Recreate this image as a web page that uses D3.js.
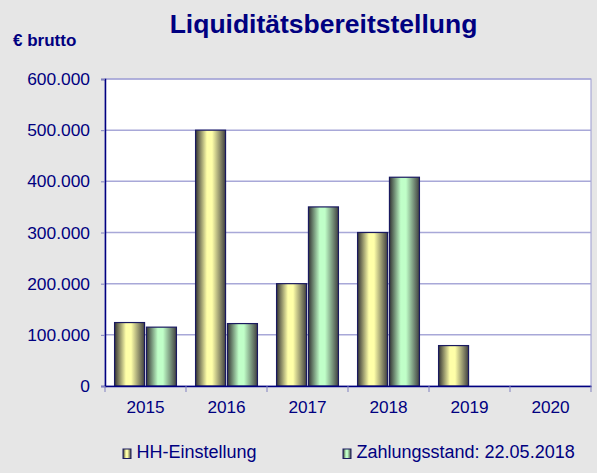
<!DOCTYPE html>
<html>
<head>
<meta charset="utf-8">
<script src="https://cdn.jsdelivr.net/npm/d3@7"></script>
<style>
  body { margin: 0; background: #e6e6e6; }
  svg { display: block; font-family: "Liberation Sans", Arial, sans-serif; }
</style>
</head>
<body>
<svg width="597" height="473"></svg>
<script>
const years = ["2015", "2016", "2017", "2018", "2019", "2020"];
const hhEinstellung = [124000, 500000, 200000, 300000, 79000, 0];
const zahlungsstand = [115000, 122000, 350000, 408000, 0, 0];
const seriesNames = ["HH-Einstellung", "Zahlungsstand: 22.05.2018"];
const yTicks = [0, 100000, 200000, 300000, 400000, 500000, 600000];

const navy = "#000080";
const svg = d3.select("svg");
const plotLeft = 105, plotRight = 591, plotTop = 79, plotBottom = 386;

// gradients for the cylinder look
const defs = svg.append("defs");
function grad(id, light) {
    let g = defs.append("linearGradient").attr("id", id)
        .attr("x1", "0%").attr("x2", "100%").attr("y1", "0%").attr("y2", "0%");
    g.append("stop").attr("offset", "0%").attr("stop-color", "#333333");
    g.append("stop").attr("offset", "38%").attr("stop-color", light);
    g.append("stop").attr("offset", "55%").attr("stop-color", light);
    g.append("stop").attr("offset", "100%").attr("stop-color", "#404040");
}
grad("gYellow", "#ffffa8");
grad("gGreen", "#c0ffc8");

let x = d3.scaleBand().domain(years).range([plotLeft, plotRight]);
let x1 = d3.scaleBand().domain([0, 1]).range([0, x.bandwidth()]).paddingInner(0.06).paddingOuter(0.3);
let y = d3.scaleLinear().domain([0, 600000]).range([plotBottom, plotTop]);

// plot area
svg.append("rect")
    .attr("x", plotLeft).attr("y", plotTop)
    .attr("width", plotRight - plotLeft).attr("height", plotBottom - plotTop)
    .attr("fill", "#ffffff")
    .attr("stroke", "#9a9ad0");

// gridlines
svg.append("g").selectAll("line")
    .data(yTicks.slice(1))
    .enter().append("line")
    .attr("x1", plotLeft).attr("x2", plotRight)
    .attr("y1", d => y(d)).attr("y2", d => y(d))
    .attr("stroke", "#a8a8d8").attr("stroke-width", 1.5);

// y axis
let fmt = d => d === 0 ? "0" : d3.format(",")(d).replace(/,/g, ".");
let yAxis = d3.axisLeft(y).tickValues(yTicks).tickFormat(fmt).tickSize(4).tickPadding(11);
let yg = svg.append("g").attr("transform", `translate(${plotLeft},0)`).call(yAxis);
yg.select(".domain").attr("stroke", navy).attr("stroke-width", 1.5);
yg.selectAll(".tick line").attr("stroke", "#8080c0");
yg.selectAll(".tick text").attr("fill", navy).style("font-size", "17.4px");

// bars
let data = years.map((yr, i) => ({ yr, vals: [hhEinstellung[i], zahlungsstand[i]] }));
let groups = svg.append("g").selectAll("g")
    .data(data).enter().append("g")
    .attr("transform", d => `translate(${x(d.yr)},0)`);
groups.selectAll("rect")
    .data(d => d.vals.map((v, k) => ({ v, k })).filter(e => e.v > 0))
    .enter().append("rect")
    .attr("x", d => x1(d.k))
    .attr("width", x1.bandwidth())
    .attr("y", d => y(d.v))
    .attr("height", d => y(0) - y(d.v))
    .attr("fill", d => d.k === 0 ? "url(#gYellow)" : "url(#gGreen)")
    .attr("stroke", "#1a1a60").attr("stroke-width", 1.2);

// x axis
let xAxis = d3.axisBottom(x).tickSize(0).tickPadding(15);
let xg = svg.append("g").attr("transform", `translate(0,${plotBottom})`).call(xAxis);
xg.select(".domain").attr("stroke", navy).attr("stroke-width", 1.5);
xg.selectAll(".tick text").attr("fill", navy).style("font-size", "17.2px");
svg.append("g").selectAll("line")
    .data(years.concat(["end"]))
    .enter().append("line")
    .attr("x1", (d, i) => plotLeft + i * x.bandwidth())
    .attr("x2", (d, i) => plotLeft + i * x.bandwidth())
    .attr("y1", plotBottom).attr("y2", plotBottom + 6)
    .attr("stroke", "#8080c0");

// title
svg.append("text")
    .attr("x", 323.5).attr("y", 33)
    .attr("text-anchor", "middle")
    .attr("fill", navy)
    .style("font-size", "26.5px").style("font-weight", "bold")
    .text("Liquiditätsbereitstellung");

svg.append("text")
    .attr("x", 13).attr("y", 46)
    .attr("fill", navy)
    .style("font-size", "17px").style("font-weight", "bold")
    .text("€ brutto");

// legend
let legendX = [123, 343];
let legend = svg.append("g").selectAll("g")
    .data(seriesNames).enter().append("g")
    .attr("transform", (d, i) => `translate(${legendX[i]},449)`);
legend.append("rect")
    .attr("width", 8).attr("height", 9.5)
    .attr("fill", (d, i) => i === 0 ? "url(#gYellow)" : "url(#gGreen)")
    .attr("stroke", "#1a1a60");
legend.append("text")
    .attr("x", 13.5).attr("y", 9.3)
    .attr("fill", navy)
    .style("font-size", "18px")
    .text(d => d);
</script>
</body>
</html>
